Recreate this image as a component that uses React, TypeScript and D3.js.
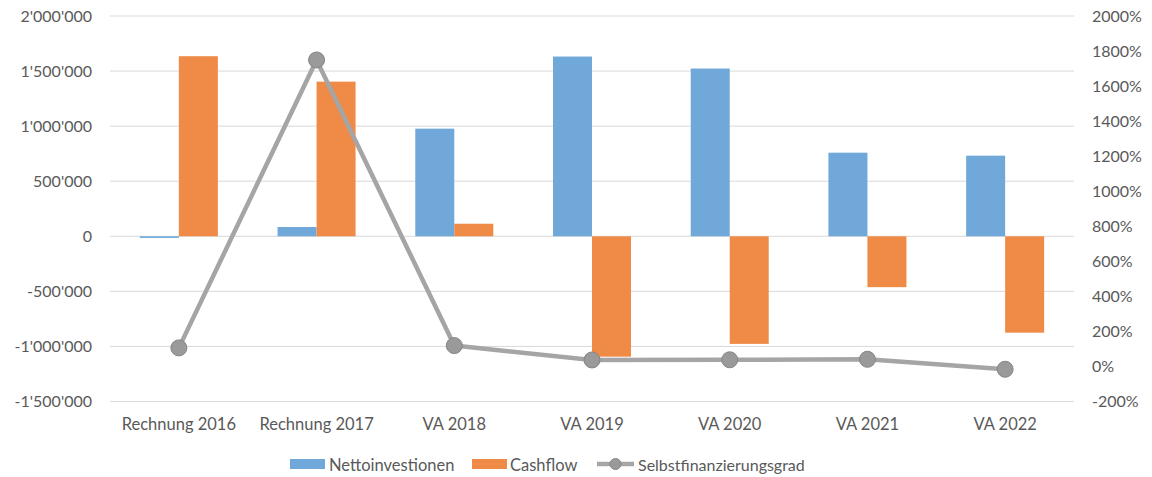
import React from "react";
import * as d3 from "d3";

const categories = ["Rechnung 2016", "Rechnung 2017", "VA 2018", "VA 2019", "VA 2020", "VA 2021", "VA 2022"];
const nettoinvestitionen = [-15000, 84000, 977000, 1632000, 1523000, 759000, 732000];
const cashflow = [1635000, 1404000, 114000, -1093000, -977000, -462000, -875000];
const selbstfinanzierungsgrad = [106, 1749, 119, 37, 38, 41, -16];
const leftTicks = [-1500000, -1000000, -500000, 0, 500000, 1000000, 1500000, 2000000];
const rightTicks = [-200, 0, 200, 400, 600, 800, 1000, 1200, 1400, 1600, 1800, 2000];
const seriesNames = ["Nettoinvestionen", "Cashflow", "Selbstfinanzierungsgrad"];

const W = 1152, H = 477;
const left = 110, right = 1074, top = 16, bottom = 401.5;
const BLUE = "#6fa8d9", ORANGE = "#ef8b46", GREY = "#a5a5a5", TEXT = "#595959";
const FONT = "Lato, 'Liberation Sans', sans-serif";

const fmt = (v: number) => {
  const s = Math.abs(v).toString().replace(/\B(?=(\d{3})+(?!\d))/g, "'");
  return (v < 0 ? "-" : "") + s;
};

export default function App() {
  const y = d3.scaleLinear().domain([-1500000, 2000000]).range([bottom, top]);
  const y2 = d3.scaleLinear().domain([-200, 2000]).range([bottom, top]);
  const p = 1 - 78 / ((right - left) / categories.length);
  const x0 = d3.scaleBand<string>().domain(categories).range([left, right]).paddingInner(p).paddingOuter(p / 2);
  const x1 = d3.scaleBand<string>().domain(["n", "c"]).range([0, x0.bandwidth()]);
  const cx = (c: string) => (x0(c) as number) + x0.bandwidth() / 2;
  const line = d3.line<number>().x((_, i) => cx(categories[i])).y((d) => y2(d));

  const bar = (c: string, key: string, v: number, color: string) => {
    const yy = Math.min(y(v), y(0));
    const h = Math.abs(y(v) - y(0));
    return <rect key={c + key} x={(x0(c) as number) + (x1(key) as number)} y={yy} width={x1.bandwidth()} height={Math.max(h, 1)} fill={color} />;
  };

  return (
    <svg width={W} height={H} style={{ position: "absolute", left: 0, top: 0, background: "#fff" }} fontFamily={FONT}>
      {leftTicks.map((t) => (
        <line key={"g" + t} x1={left} x2={right} y1={y(t)} y2={y(t)} stroke="#d9d9d9" strokeWidth={1} />
      ))}
      {leftTicks.map((t) => (
        <text key={"l" + t} x={92} y={y(t)} dy="0.35em" textAnchor="end" fontSize={16} fill={TEXT}>{fmt(t)}</text>
      ))}
      {rightTicks.map((t) => (
        <text key={"r" + t} x={1092} y={y2(t)} dy="0.35em" textAnchor="start" fontSize={16} fill={TEXT}>{t + "%"}</text>
      ))}
      {categories.map((c, i) => (
        <g key={c}>
          {bar(c, "n", nettoinvestitionen[i], BLUE)}
          {bar(c, "c", cashflow[i], ORANGE)}
        </g>
      ))}
      <path d={line(selbstfinanzierungsgrad) as string} fill="none" stroke={GREY} strokeWidth={4.5} strokeLinejoin="round" />
      {selbstfinanzierungsgrad.map((v, i) => (
        <circle key={"m" + i} cx={cx(categories[i])} cy={y2(v)} r={8} fill="#9a9a9a" stroke="#858585" strokeWidth={1} />
      ))}
      {categories.map((c) => (
        <text key={"x" + c} x={cx(c)} y={424} dy="0.35em" textAnchor="middle" fontSize={16.5} fill={TEXT}>{c}</text>
      ))}
      <g>
        <rect x={290} y={459} width={35} height={10} fill={BLUE} />
        <text x={329} y={465} dy="0.35em" fontSize={16.5} fill={TEXT}>{seriesNames[0]}</text>
        <rect x={472} y={459} width={35} height={10} fill={ORANGE} />
        <text x={510} y={465} dy="0.35em" fontSize={16.5} fill={TEXT}>{seriesNames[1]}</text>
        <line x1={597} x2={634} y1={464} y2={464} stroke={GREY} strokeWidth={4.5} />
        <circle cx={615.5} cy={464} r={5.5} fill="#9a9a9a" stroke="#858585" strokeWidth={1} />
        <text x={638} y={465} dy="0.35em" fontSize={16} fill={TEXT}>{seriesNames[2]}</text>
      </g>
    </svg>
  );
}
